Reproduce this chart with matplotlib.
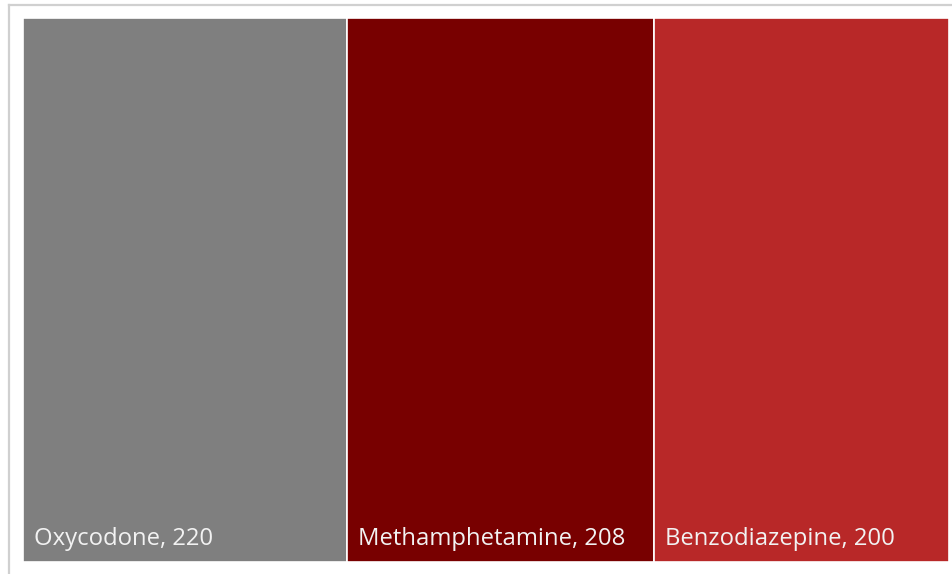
import matplotlib
matplotlib.use("Agg")
import matplotlib.pyplot as plt
from matplotlib.lines import Line2D

categories = ["Oxycodone", "Methamphetamine", "Benzodiazepine"]
values = [220, 208, 200]
colors = ["#7f7f7f", "#780000", "#b82828"]

W, H = 952, 574
fig = plt.figure(figsize=(W / 100, H / 100), dpi=100)
fig.patch.set_facecolor("white")

# light frame around the chart area
fig.add_artist(Line2D([8.5 / W, 1.0], [1 - 4.5 / H, 1 - 4.5 / H],
                      transform=fig.transFigure, color="#d0d0d0", lw=1.6))
fig.add_artist(Line2D([8.5 / W, 8.5 / W], [0.0, 1 - 4.5 / H],
                      transform=fig.transFigure, color="#d0d0d0", lw=1.6))

left, right, top, bottom = 23, 949, 18, 562
ax = fig.add_axes([left / W, 1 - bottom / H, (right - left) / W, (bottom - top) / H])
total = sum(values)
ax.set_xlim(0, total)
ax.set_ylim(0, 1)
ax.axis("off")

# slice treemap: each rectangle's width is proportional to its value
x0 = 0
for name, v, c in zip(categories, values, colors):
    ax.barh(0.5, v, left=x0, height=1.0, color=c, edgecolor="white", linewidth=1.2)
    ax.annotate(f"{name}, {v}", xy=(x0, 0), xytext=(11, 17), textcoords="offset pixels",
                color="#f2f2f2", fontsize=17.2, family=["Open Sans", "DejaVu Sans"],
                ha="left", va="baseline")
    x0 += v

fig.savefig("out.png", dpi=100, facecolor="white")
